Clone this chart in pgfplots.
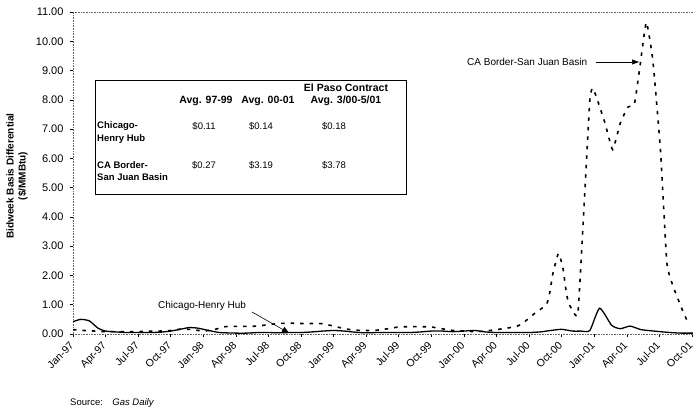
\documentclass[border=0pt]{standalone}
\usepackage{pgfplots}
\pgfplotsset{compat=1.18}
\usepackage{fontspec}
\setmainfont{Liberation Sans}
\usetikzlibrary{arrows.meta}

\begin{document}
\begin{tikzpicture}[x=1pt,y=1pt]
\useasboundingbox (0,0) rectangle (693,414);
\begin{axis}[
  at={(73pt,80pt)}, anchor=south west,
  scale only axis, width=620pt, height=322pt,
  xmin=0, xmax=57.1, ymin=0, ymax=11,
  axis x line*=bottom, axis y line*=left,
  axis line style={densely dotted, black!60, line width=0.6pt},
  xtick={0,3,...,57},
  xticklabels={Jan-97,Apr-97,Jul-97,Oct-97,Jan-98,Apr-98,Jul-98,Oct-98,Jan-99,Apr-99,
               Jul-99,Oct-99,Jan-00,Apr-00,Jul-00,Oct-00,Jan-01,Apr-01,Jul-01,Oct-01},
  ytick={0,1,...,11},
  tick align=outside,
  major tick length=3pt,
  tick style={black, line width=0.5pt},
  /pgf/number format/assume math mode=true,
  yticklabel style={/pgf/number format/.cd, fixed, fixed zerofill, precision=2,
                    /tikz/.cd, font=\fontsize{11}{13}\selectfont, xshift=-3pt},
  xticklabel style={rotate=45, anchor=north east, font=\fontsize{10.5}{12}\selectfont,
                    inner sep=1pt, xshift=-4.5pt, yshift=1pt},
  clip=false,
]
% CA Border-San Juan Basin
\addplot[black, line width=1.6pt, dash pattern=on 3.5pt off 6pt, smooth, tension=0.25] coordinates {
  (0,0.15)(1,0.12)(2,0.1)(3,0.08)(4,0.08)(5,0.08)(6,0.08)(7,0.1)(8,0.1)(9,0.12)
  (10,0.17)(11,0.15)(12,0.1)(13,0.15)(14,0.25)(15,0.26)(16,0.26)(17,0.27)(18,0.32)(19,0.36)
  (20,0.37)(21,0.36)(22,0.36)(23,0.35)(24,0.27)(25,0.18)(26,0.13)(27,0.12)(28,0.13)(29,0.18)
  (30,0.24)(31,0.25)(32,0.25)(33,0.24)(34,0.18)(35,0.12)(36,0.1)(37,0.08)(38,0.1)(39,0.15)
  (40,0.2)(41,0.28)(41.6,0.42)(42.5,0.7)(43.6,1.0)(43.9,1.4)(44.2,2.07)(44.7,2.75)
  (45.1,2.3)(45.4,1.5)(45.6,1.1)(45.9,0.88)(46.5,0.7)(47.1,4.6)(47.6,8.0)(47.85,8.4)
  (48.2,8.1)(49.0,7.2)(49.7,6.3)(50.4,7.2)(51.1,7.75)(51.7,7.85)(52.2,9.1)(52.8,10.65)
  (53.4,9.35)(54.1,6.3)(54.7,2.4)(55.4,1.5)(56.2,0.75)(56.6,0.42)
};
% Chicago-Henry Hub
\addplot[black, line width=1.3pt, smooth, tension=0.35] coordinates {
  (0,0.42)(0.7,0.5)(1.5,0.45)(2.3,0.2)(3,0.1)(4,0.07)(5,0.05)(6,0.05)(7,0.05)(8,0.06)
  (9,0.1)(10,0.17)(10.7,0.22)(11.5,0.2)(12.5,0.12)(13.5,0.05)(15,0.03)(16,0.03)(17,0.05)
  (18,0.05)(19,0.04)(20,0.05)(21,0.05)(22,0.07)(23,0.1)(24,0.12)(25,0.1)(26,0.06)(27,0.04)
  (28,0.05)(29,0.05)(30,0.05)(31,0.05)(32,0.07)(33,0.1)(34,0.1)(35,0.08)(36,0.1)(37,0.12)
  (38,0.07)(39,0.05)(40,0.05)(41,0.05)(42,0.05)(43,0.07)(44,0.12)(45,0.16)(46,0.1)
  (46.8,0.1)(47.6,0.12)(48.5,0.88)(49.6,0.3)(50.4,0.18)(51.3,0.27)(52.3,0.15)(53.5,0.1)
  (55,0.05)(56,0.03)(57.1,0.03)
};
\draw[densely dotted, black!60, line width=0.6pt] (rel axis cs:0,1) -- (rel axis cs:1,1);
\end{axis}

% y label
\node[rotate=90, align=center, font=\fontsize{10}{12}\selectfont\bfseries] at (17,238)
  {Bidweek Basis Differential\\(\$/MMBtu)};
% source
\node[anchor=west, font=\fontsize{9.5}{11}\selectfont, inner sep=0pt] at (70,11)
  {Source:\quad\textit{Gas Daily}};

% table
\draw[fill=white, line width=0.6pt] (95,220) rectangle (406,334);
\begin{scope}[every node/.style={inner sep=0pt}]
\node[font=\fontsize{10.5}{12}\selectfont\bfseries] at (346,326) {El Paso Contract};
\node[font=\fontsize{10.5}{12}\selectfont\bfseries] at (206,313) {Avg. 97-99};
\node[font=\fontsize{10.5}{12}\selectfont\bfseries] at (268,313) {Avg. 00-01};
\node[font=\fontsize{10.5}{12}\selectfont\bfseries] at (346,313) {Avg. 3/00-5/01};
\node[anchor=west, font=\fontsize{9.5}{11}\selectfont\bfseries] at (97,288) {Chicago-};
\node[anchor=west, font=\fontsize{9.5}{11}\selectfont\bfseries] at (97,275) {Henry Hub};
\node[anchor=west, font=\fontsize{9.5}{11}\selectfont\bfseries] at (97,249) {CA Border-};
\node[anchor=west, font=\fontsize{9.5}{11}\selectfont\bfseries] at (97,237) {San Juan Basin};
\node[font=\fontsize{9.5}{11}\selectfont] at (204,288) {\$0.11};
\node[font=\fontsize{9.5}{11}\selectfont] at (261,288) {\$0.14};
\node[font=\fontsize{9.5}{11}\selectfont] at (334,288) {\$0.18};
\node[font=\fontsize{9.5}{11}\selectfont] at (204,249) {\$0.27};
\node[font=\fontsize{9.5}{11}\selectfont] at (261,249) {\$3.19};
\node[font=\fontsize{9.5}{11}\selectfont] at (334,249) {\$3.78};
\end{scope}

% annotations
\node[anchor=west, font=\fontsize{10}{12}\selectfont, inner sep=0pt] at (158,108) {Chicago-Henry Hub};
\draw[line width=0.6pt, -{Triangle[length=7pt,width=6pt]}] (252,102) -- (289,81);
\node[anchor=west, font=\fontsize{10}{12}\selectfont, inner sep=0pt] at (467,352) {CA Border-San Juan Basin};
\draw[line width=0.6pt, -{Triangle[length=7pt,width=5pt]}] (596,352) -- (639,352);
\end{tikzpicture}
\end{document}
